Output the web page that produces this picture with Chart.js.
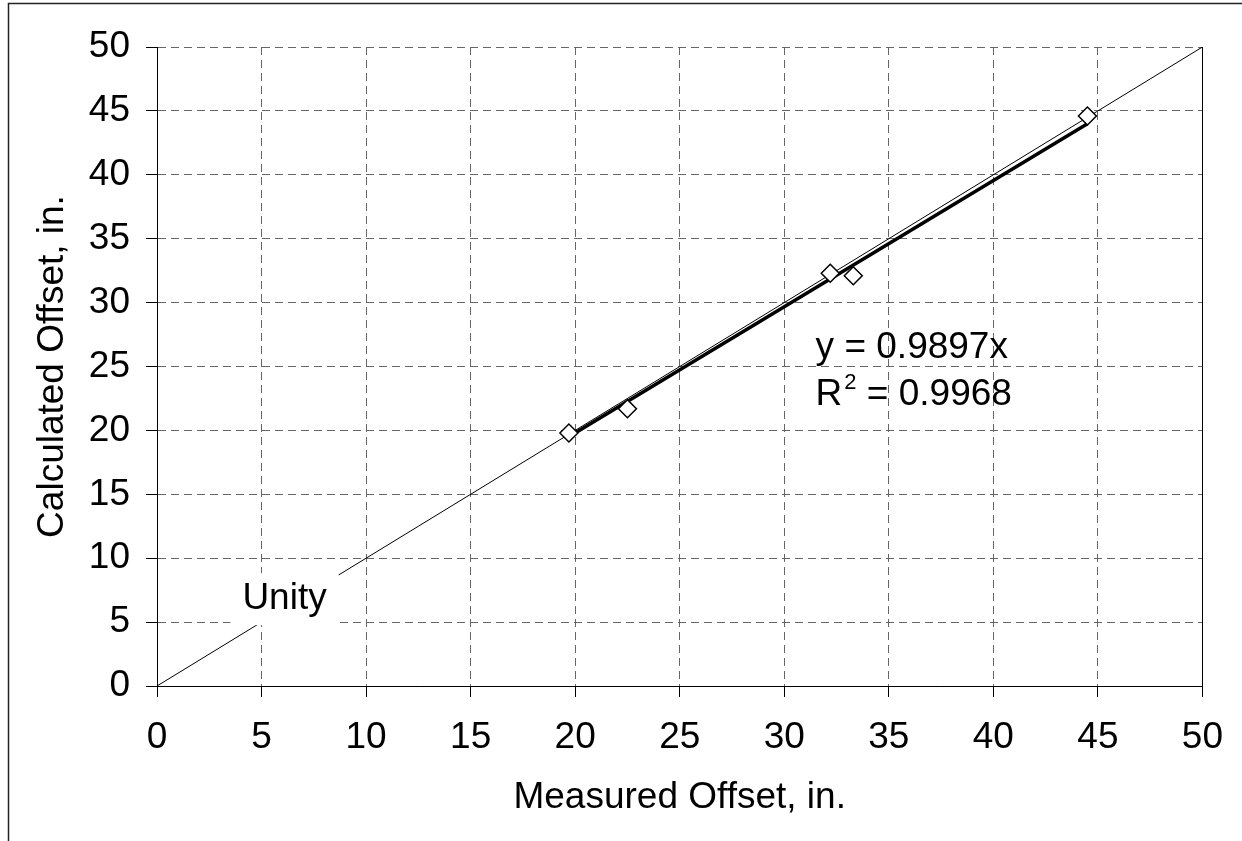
<!DOCTYPE html>
<html>
<head>
<meta charset="utf-8">
<script src="https://cdn.jsdelivr.net/npm/chart.js@4.4.0/dist/chart.umd.min.js"></script>
<style>
  body{margin:0;background:#fff;}
  #grafico{display:block;}
</style>
</head>
<body>
<canvas id="grafico" width="1242" height="841"></canvas>
<script>
// datos
var medido = [19.7, 22.5, 32.2, 33.3, 44.5];
var calculado = [19.8, 21.7, 32.3, 32.1, 44.6];
var tendenciaX = [19.7, 44.5];
var tendenciaY = [19.5, 44.0];
var unidadX = [0, 50];
var unidadY = [0, 50];
var ticksEje = [0, 5, 10, 15, 20, 25, 30, 35, 40, 45, 50];
var textoEcuacion = 'y = 0.9897x';
var textoR2 = ' = 0.9968';
var textoUnidad = 'Unity';
var tituloX = 'Measured Offset, in.';
var tituloY = 'Calculated Offset, in.';

var fuente = 'Liberation Sans, Arial, sans-serif';

function pares(xs, ys){
  var out = [];
  for (var i = 0; i < xs.length; i++) out.push({x: xs[i], y: ys[i]});
  return out;
}

var anotaciones = {
  id: 'anotaciones',
  beforeDraw: function(chart){
    // marco exterior (solo izquierda y arriba)
    var ctx = chart.ctx;
    ctx.save();
    ctx.strokeStyle = '#222';
    ctx.lineWidth = 1.5;
    ctx.beginPath();
    ctx.moveTo(8.5, 841);
    ctx.lineTo(8.5, 3.5);
    ctx.lineTo(1242, 3.5);
    ctx.stroke();
    ctx.restore();
  },
  beforeDatasetsDraw: function(chart){
    // borde derecho solido
    var ctx = chart.ctx, a = chart.chartArea;
    var xr = Math.round(a.right) + 0.5;
    ctx.save();
    ctx.strokeStyle = '#000';
    ctx.lineWidth = 1;
    ctx.beginPath();
    ctx.moveTo(xr, a.top);
    ctx.lineTo(xr, a.bottom);
    ctx.stroke();
    ctx.restore();
  },
  afterDatasetsDraw: function(chart){
    var ctx = chart.ctx, sx = chart.scales.x, sy = chart.scales.y;
    ctx.save();
    ctx.font = '37px ' + fuente;
    ctx.fillStyle = '#000';

    // etiqueta Unity con fondo blanco
    var ux = sx.getPixelForValue(6.1), uy = sy.getPixelForValue(6.8);
    var w = ctx.measureText(textoUnidad).width + 24;
    ctx.fillStyle = '#fff';
    ctx.fillRect(ux - w / 2, uy - 26, w, 52);
    ctx.fillStyle = '#000';
    ctx.textAlign = 'center';
    ctx.textBaseline = 'middle';
    ctx.fillText(textoUnidad, ux, uy);

    // ecuacion de la tendencia
    ctx.textAlign = 'left';
    ctx.textBaseline = 'alphabetic';
    var ex = sx.getPixelForValue(31.5);
    ctx.fillText(textoEcuacion, ex, sy.getPixelForValue(25.7));
    var by = sy.getPixelForValue(22.0);
    ctx.fillText('R', ex, by);
    var rw = ctx.measureText('R').width;
    ctx.font = '22px ' + fuente;
    ctx.fillText('2', ex + rw + 2, by - 16);
    var dw = ctx.measureText('2').width;
    ctx.font = '37px ' + fuente;
    ctx.fillText(textoR2, ex + rw + dw + 2, by);
    ctx.restore();
  }
};

function eje(titulo, pos){
  return {
    type: 'linear',
    position: pos,
    min: 0,
    max: 50,
    afterBuildTicks: function(s){ s.ticks = ticksEje.map(function(v){ return {value: v}; }); },
    afterFit: function(s){
      if (pos === 'left') s.width = 157; else s.height = 155;
    },
    grid: {
      color: '#666',
      lineWidth: 1,
      tickLength: 11,
      tickColor: '#000',
      tickWidth: 1
    },
    border: {display: true, color: '#000', width: 1, dash: [8, 5]},
    ticks: {
      color: '#000',
      font: {family: fuente, size: 37},
      padding: pos === 'left' ? 16 : 19,
      maxRotation: 0,
      autoSkip: false
    },
    title: {
      display: true,
      text: titulo,
      color: '#000',
      font: {family: fuente, size: 37},
      padding: pos === 'left' ? {top: 31, bottom: 0} : {top: 0, bottom: 21}
    }
  };
}

var ctx = document.getElementById('grafico').getContext('2d');
var grafico = new Chart(ctx, {
  type: 'scatter',
  data: {
    datasets: [
      {
        label: 'Unity',
        data: pares(unidadX, unidadY),
        showLine: true,
        borderColor: '#000',
        borderWidth: 1,
        pointRadius: 0,
        order: 3
      },
      {
        label: 'Trend',
        data: pares(tendenciaX, tendenciaY),
        showLine: true,
        borderColor: '#000',
        borderWidth: 3.5,
        pointRadius: 0,
        order: 2
      },
      {
        label: 'Offset',
        data: pares(medido, calculado),
        pointStyle: 'rectRot',
        pointRadius: 9,
        pointBackgroundColor: '#fff',
        pointBorderColor: '#000',
        pointBorderWidth: 1.5,
        order: 1
      }
    ]
  },
  options: {
    responsive: false,
    animation: false,
    layout: {padding: {top: 47, right: 37, left: 0, bottom: 0}},
    plugins: {legend: {display: false}, tooltip: {enabled: false}},
    scales: {
      x: eje(tituloX, 'bottom'),
      y: eje(tituloY, 'left')
    }
  },
  plugins: [anotaciones]
});
</script>
</body>
</html>
